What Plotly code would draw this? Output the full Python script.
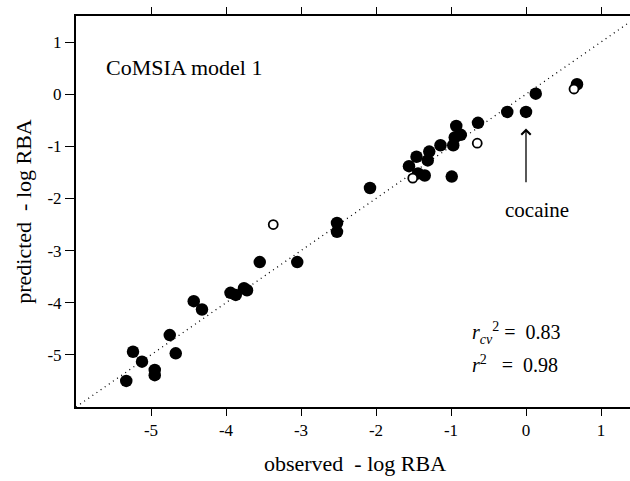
import plotly.graph_objects as go

# observed vs predicted (-log RBA), training set (filled)
obs_train = [-5.33, -5.24, -5.12, -4.95, -4.95, -4.75, -4.67, -4.43, -4.32, -3.94,
             -3.87, -3.76, -3.72, -3.55, -3.05, -2.52, -2.52, -2.08, -1.56, -1.46,
             -1.44, -1.35, -1.31, -1.29, -1.14, -0.97, -0.93, -0.95, -0.87, -0.99,
             -0.64, -0.25, 0.00, 0.13, 0.68]
pred_train = [-5.50, -4.94, -5.13, -5.29, -5.39, -4.62, -4.97, -3.97, -4.13, -3.81,
              -3.85, -3.72, -3.76, -3.22, -3.22, -2.47, -2.64, -1.80, -1.38, -1.20,
              -1.52, -1.56, -1.27, -1.10, -0.98, -0.98, -0.61, -0.83, -0.78, -1.58,
              -0.55, -0.34, -0.34, 0.01, 0.19]
# test set (open)
obs_test = [-3.37, -1.51, -0.65, 0.64]
pred_test = [-2.50, -1.61, -0.94, 0.10]

diag = [-6.0, 1.5]
x_ticks = [-5, -4, -3, -2, -1, 0, 1]
x_labels = ["-5", "-4", "-3", "-2", "-1", "0", "1"]
y_ticks = [-5, -4, -3, -2, -1, 0, 1]
y_labels = ["-5", "-4", "-3", "-2", "-1", "0", "1"]

FONT = "Liberation Serif, Times New Roman, serif"

fig = go.Figure()
fig.add_trace(go.Scatter(x=diag, y=diag, mode="lines",
                         line=dict(color="black", width=1.3, dash="1px,4px"),
                         hoverinfo="skip", showlegend=False))
fig.add_trace(go.Scatter(x=obs_train, y=pred_train, mode="markers",
                         marker=dict(size=12.5, color="black", line=dict(width=0)),
                         showlegend=False))
fig.add_trace(go.Scatter(x=obs_test, y=pred_test, mode="markers",
                         marker=dict(size=9, color="white", line=dict(color="black", width=1.8)),
                         showlegend=False))

fig.add_annotation(x=-5.63, y=0.52, text="CoMSIA model 1", showarrow=False,
                   xanchor="left", yanchor="middle", font=dict(family=FONT, size=22, color="black"))
fig.add_annotation(x=0.15, y=-2.22, text="cocaine", showarrow=False,
                   xanchor="center", yanchor="middle", font=dict(family=FONT, size=21, color="black"))
fig.add_annotation(x=0.0, y=-0.66, ax=0.0, ay=-1.72, axref="x", ayref="y",
                   text="", showarrow=True, arrowhead=4, arrowsize=1.4, arrowwidth=1.3,
                   arrowcolor="black")
fig.add_annotation(x=-0.75, y=-4.58, text="<i>r<sub>cv</sub></i><sup>2</sup> =  0.83", showarrow=False,
                   xanchor="left", yanchor="middle", font=dict(family=FONT, size=20, color="black"))
fig.add_annotation(x=-0.75, y=-5.18, text="<i>r</i><sup>2</sup>   =  0.98", showarrow=False,
                   xanchor="left", yanchor="middle", font=dict(family=FONT, size=20, color="black"))

fig.update_layout(
    width=634, height=481,
    margin=dict(l=76, r=0, t=16, b=74, autoexpand=False),
    paper_bgcolor="white", plot_bgcolor="white",
    font=dict(family=FONT, color="black"),
    xaxis=dict(range=[-6.0, 1.44], tickvals=x_ticks, ticktext=x_labels, ticks="outside", ticklen=7,
               tickwidth=1.3, tickcolor="black", showline=True, linecolor="black",
               linewidth=2, mirror="ticks", showgrid=False, zeroline=False, automargin=False,
               tickfont=dict(family=FONT, size=17),
               title=dict(text="observed  - log RBA", font=dict(family=FONT, size=22), standoff=16)),
    yaxis=dict(range=[-6.0, 1.5], tickvals=y_ticks, ticktext=y_labels, ticks="outside", ticklen=9,
               tickwidth=1.3, tickcolor="black", showline=True, linecolor="black",
               linewidth=2, mirror=False, showgrid=False, zeroline=False, automargin=False,
               tickfont=dict(family=FONT, size=17),
               title=dict(text="predicted  - log RBA", font=dict(family=FONT, size=22), standoff=10)),
)

fig.write_html("out.html", config={"displayModeBar": False},
               post_script="document.body.style.margin='0';document.body.style.padding='0';document.body.style.overflow='hidden';")
